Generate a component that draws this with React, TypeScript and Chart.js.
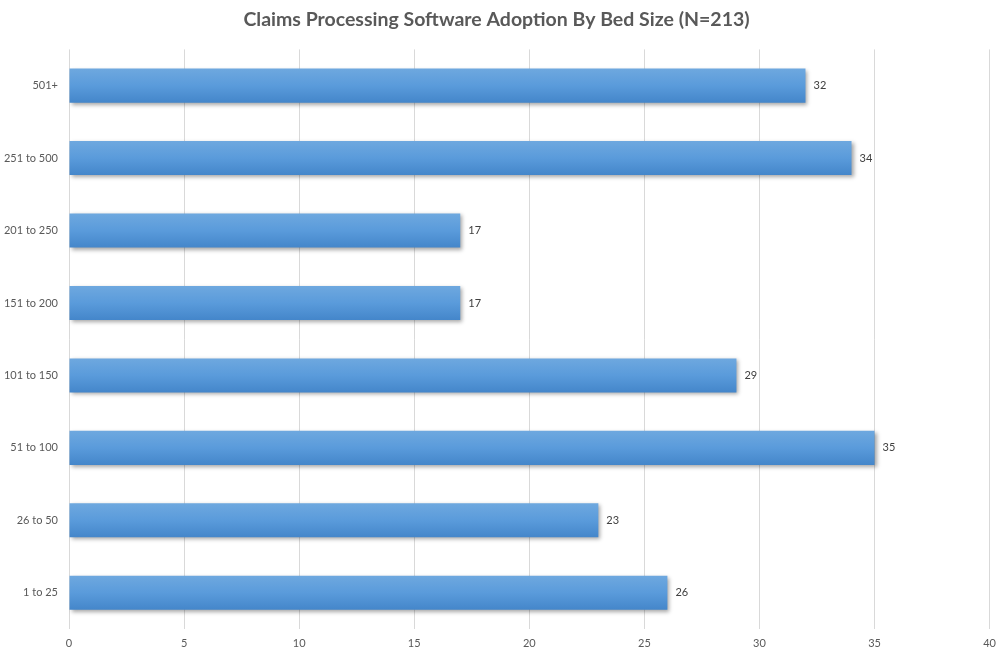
import React, { useEffect, useRef } from "react";
import { Chart, registerables } from "chart.js";

Chart.register(...registerables);

const title = "Claims Processing Software Adoption By Bed Size (N=213)";
const categories = ["501+", "251 to 500", "201 to 250", "151 to 200", "101 to 150", "51 to 100", "26 to 50", "1 to 25"];
const values = [32, 34, 17, 17, 29, 35, 23, 26];
const xMin = 0;
const xMax = 40;
const xStep = 5;

const FONT = "Lato, 'Open Sans', sans-serif";
const BAR_PCT = 0.47;

const barStylePlugin = {
  id: "barStyle",
  beforeDatasetsDraw(chart: any) {
    const ctx = chart.ctx;
    ctx.save();
    ctx.shadowColor = "rgba(0,0,0,0.35)";
    ctx.shadowBlur = 4;
    ctx.shadowOffsetX = 2;
    ctx.shadowOffsetY = 2;
  },
  afterDatasetsDraw(chart: any) {
    const ctx = chart.ctx;
    ctx.restore();
    const meta = chart.getDatasetMeta(0);
    ctx.save();
    ctx.font = `11px ${FONT}`;
    ctx.fillStyle = "#404040";
    ctx.textAlign = "left";
    ctx.textBaseline = "middle";
    meta.data.forEach((el: any, i: number) => {
      ctx.fillText(String(values[i]), el.x + 8, el.y);
    });
    ctx.restore();
  },
};

function barGradient(c: any) {
  const chart = c.chart;
  const ys = chart.scales && chart.scales.y;
  const area = chart.chartArea;
  if (!ys || !area) return "#5B9BD5";
  const center = ys.getPixelForValue(c.dataIndex);
  const band = (area.bottom - area.top) / categories.length;
  const half = (band * BAR_PCT) / 2;
  const g = chart.ctx.createLinearGradient(0, center - half, 0, center + half);
  g.addColorStop(0, "#6EA8DF");
  g.addColorStop(0.5, "#5A9BDB");
  g.addColorStop(1, "#4486CA");
  return g;
}

export default function App() {
  const ref = useRef<HTMLCanvasElement>(null);
  useEffect(() => {
    if (!ref.current) return;
    const chart = new Chart(ref.current, {
      type: "bar",
      data: {
        labels: categories,
        datasets: [
          {
            data: values,
            backgroundColor: barGradient,
            borderWidth: 0,
            barPercentage: BAR_PCT,
            categoryPercentage: 1,
          },
        ],
      },
      options: {
        indexAxis: "y",
        animation: false,
        responsive: false,
        maintainAspectRatio: false,
        layout: { padding: { left: 0, right: 11, top: 0, bottom: 0 } },
        plugins: {
          legend: { display: false },
          tooltip: { enabled: false },
          title: {
            display: true,
            text: title,
            color: "#595959",
            font: { family: FONT, size: 19.5, weight: "bold" },
            padding: { top: 8, bottom: 18 },
          },
        },
        scales: {
          x: {
            min: xMin,
            max: xMax,
            ticks: { stepSize: xStep, color: "#595959", font: { family: FONT, size: 11 }, padding: 8 },
            grid: { color: "#D9D9D9", drawTicks: false },
            border: { display: false },
            afterFit: (s: any) => { s.height = 25; },
          },
          y: {
            ticks: { color: "#595959", font: { family: FONT, size: 11 }, padding: 11 },
            grid: { display: false, drawTicks: false },
            border: { display: false },
            afterFit: (s: any) => { s.width = 69; },
          },
        },
      },
      plugins: [barStylePlugin],
    } as any);
    return () => chart.destroy();
  }, []);
  return (
    <div style={{ position: "fixed", left: 0, top: 0, width: 1004, height: 654, background: "#fff" }}>
      <canvas ref={ref} width={1004} height={654} style={{ width: 1004, height: 654 }} />
    </div>
  );
}
